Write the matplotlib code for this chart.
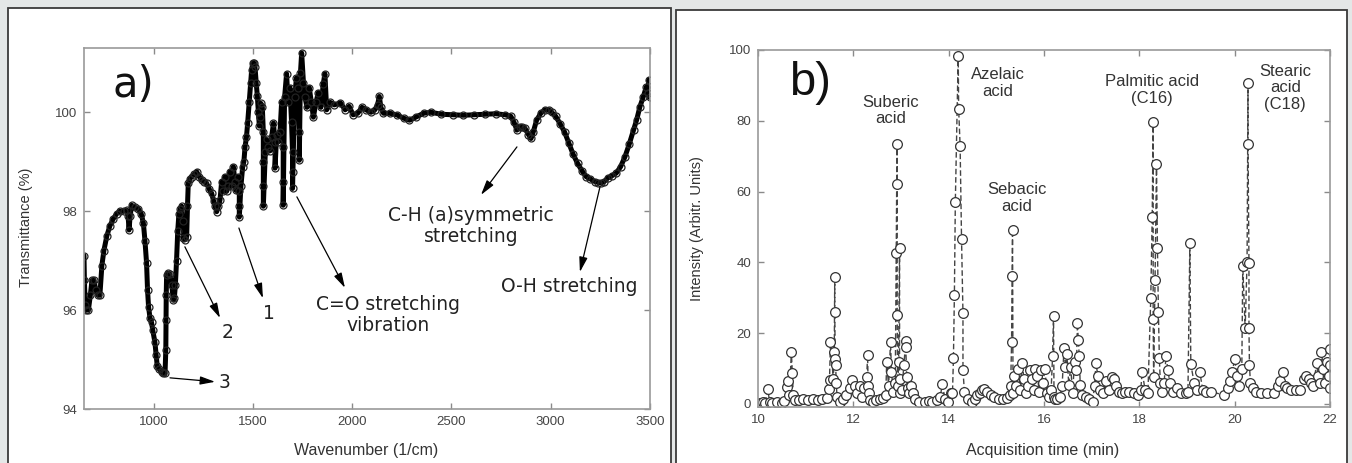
import matplotlib.pyplot as plt
from matplotlib.patches import Rectangle

# ---- panel a: IR spectrum ----
wavenumber = [
    650, 652, 656, 662, 672, 682, 690, 700, 710, 720,
    730, 740, 750, 765, 780, 798, 815, 831, 850, 865,
    872, 877, 882, 890, 905, 923, 938, 949, 957, 965,
    970, 975, 982, 990, 996, 1007, 1013, 1019, 1030, 1041,
    1050, 1058, 1062, 1063, 1064, 1066, 1072, 1083, 1092, 1100,
    1105, 1110, 1116, 1122, 1128, 1135, 1142, 1147, 1150, 1158,
    1167, 1171, 1175, 1183, 1192, 1205, 1217, 1230, 1243, 1255,
    1268, 1280, 1293, 1303, 1310, 1318, 1327, 1335, 1343, 1351,
    1360, 1368, 1377, 1385, 1393, 1402, 1410, 1415, 1424, 1432,
    1432, 1432, 1440, 1449, 1455, 1461, 1468, 1474, 1482, 1489,
    1494, 1499, 1505, 1511, 1517, 1523, 1528, 1533, 1537, 1541,
    1548, 1553, 1553, 1553, 1553, 1563, 1570, 1578, 1587, 1595,
    1604, 1612, 1612, 1620, 1628, 1637, 1645, 1653, 1653, 1653,
    1660, 1670, 1678, 1687, 1695, 1700, 1700, 1700, 1710, 1720,
    1728, 1734, 1734, 1740, 1746, 1755, 1763, 1773, 1784, 1795,
    1805, 1818, 1830, 1843, 1855, 1863, 1872, 1890, 1910, 1941,
    1965, 1985, 2005, 2028, 2050, 2070, 2095, 2115, 2128, 2137,
    2145, 2158, 2190, 2224, 2260, 2289, 2320, 2360, 2397, 2450,
    2506, 2560, 2614, 2670, 2723, 2770, 2799, 2815, 2830, 2843,
    2853, 2870, 2888, 2901, 2912, 2929, 2950, 2971, 2990, 3005,
    3025, 3047, 3070, 3092, 3113, 3135, 3157, 3178, 3200, 3222,
    3240, 3255, 3270, 3287, 3310, 3330, 3352, 3374, 3395, 3417,
    3433, 3449, 3465, 3482, 3490, 3495, 3498,
]
transmittance = [
    97.1, 96.6, 96.1, 96.0, 96.0, 96.3, 96.6, 96.6, 96.4, 96.3,
    96.3, 96.9, 97.2, 97.5, 97.7, 97.85, 97.95, 98.0, 98.0, 98.02,
    97.9, 97.62, 97.9, 98.12, 98.08, 98.05, 97.95, 97.76, 97.4, 96.95,
    96.4, 96.07, 95.85, 95.75, 95.6, 95.35, 95.1, 94.86, 94.8, 94.75,
    94.72, 94.72, 95.2, 95.8, 96.3, 96.7, 96.75, 96.72, 96.5, 96.2,
    96.25, 96.5, 97.0, 97.6, 97.95, 98.05, 98.1, 97.8, 97.45, 97.42,
    97.48, 98.1, 98.56, 98.65, 98.7, 98.75, 98.8, 98.7, 98.63, 98.6,
    98.56, 98.45, 98.36, 98.2, 98.1, 97.99, 98.1, 98.23, 98.6, 98.4,
    98.7, 98.4, 98.5, 98.8, 98.5, 98.9, 98.6, 98.42, 98.7, 98.4,
    98.1, 97.88, 98.5, 98.9, 99.0, 99.3, 99.5, 99.78, 100.2, 100.59,
    100.85, 100.99, 101.0, 100.92, 100.6, 100.32, 100.0, 99.72, 99.9, 100.18,
    100.1, 99.6, 99.0, 98.5, 98.1, 99.2, 99.45, 99.3, 99.22, 99.5,
    99.78, 99.4, 98.87, 99.55, 99.4, 99.6, 100.2, 99.3, 98.6, 98.12,
    100.3, 100.78, 100.2, 100.5, 99.8, 99.2, 98.8, 98.46, 100.3, 100.7,
    100.5, 99.6, 99.03, 100.8, 101.2, 100.6, 100.3, 100.1, 100.5, 100.2,
    99.9, 100.2, 100.4, 100.1, 100.58, 100.78, 100.05, 100.2, 100.15, 100.19,
    100.05, 100.12, 99.95, 99.98, 100.1, 100.05, 100.0, 100.05, 100.15, 100.32,
    100.1, 99.98, 99.98, 99.95, 99.88, 99.84, 99.9, 99.98, 100.0, 99.96,
    99.95, 99.94, 99.95, 99.96, 99.97, 99.95, 99.92, 99.8, 99.64, 99.7,
    99.7, 99.68, 99.55, 99.47, 99.6, 99.84, 99.98, 100.05, 100.05, 100.0,
    99.92, 99.77, 99.6, 99.37, 99.15, 98.97, 98.82, 98.7, 98.65, 98.6,
    98.58, 98.57, 98.6, 98.67, 98.72, 98.77, 98.9, 99.1, 99.35, 99.64,
    99.85, 100.11, 100.3, 100.52, 100.4, 100.66, 100.3,
]

# ---- panel b: chromatogram ----
acq_time = [
    10.0, 10.05, 10.1, 10.15, 10.2, 10.25, 10.3, 10.4, 10.5, 10.55,
    10.6, 10.63, 10.66, 10.7, 10.72, 10.74, 10.78, 10.85, 10.95, 11.05,
    11.15, 11.25, 11.35, 11.45, 11.49, 11.5, 11.52, 11.58, 11.6, 11.61,
    11.61, 11.62, 11.63, 11.64, 11.66, 11.72, 11.78, 11.85, 11.92, 11.98,
    12.03, 12.08, 12.13, 12.18, 12.23, 12.28, 12.3, 12.31, 12.33, 12.36,
    12.42, 12.48, 12.55, 12.62, 12.68, 12.70, 12.74, 12.78, 12.8, 12.84,
    12.88, 12.9, 12.91, 12.92, 12.92, 12.93, 12.95, 12.97, 12.97, 12.98,
    13.02, 13.06, 13.1, 13.1, 13.12, 13.14, 13.16, 13.2, 13.25, 13.3,
    13.38, 13.5, 13.58, 13.66, 13.75, 13.82, 13.87, 13.92, 13.98, 14.04,
    14.08, 14.1, 14.12, 14.14, 14.2, 14.21, 14.24, 14.27, 14.3, 14.3,
    14.33, 14.4, 14.48, 14.55, 14.6, 14.65, 14.7, 14.75, 14.8, 14.88,
    14.96, 15.05, 15.15, 15.22, 15.28, 15.3, 15.32, 15.33, 15.34, 15.35,
    15.38, 15.42, 15.46, 15.5, 15.54, 15.58, 15.62, 15.66, 15.7, 15.74,
    15.78, 15.82, 15.86, 15.9, 15.94, 15.98, 16.02, 16.06, 16.1, 16.15,
    16.18, 16.2, 16.21, 16.23, 16.28, 16.33, 16.38, 16.42, 16.45, 16.48,
    16.52, 16.56, 16.6, 16.64, 16.68, 16.7, 16.72, 16.74, 16.76, 16.8,
    16.88, 16.95, 17.02, 17.06, 17.09, 17.13, 17.18, 17.24, 17.3, 17.36,
    17.42, 17.47, 17.52, 17.57, 17.63, 17.7, 17.78, 17.88, 17.98, 18.03,
    18.06, 18.12, 18.18, 18.24, 18.27, 18.29, 18.29, 18.3, 18.33, 18.36,
    18.38, 18.4, 18.42, 18.44, 18.48, 18.52, 18.56, 18.6, 18.64, 18.7,
    18.78, 18.88, 18.98, 19.02, 19.06, 19.08, 19.15, 19.22, 19.27, 19.33,
    19.4, 19.5, 19.78, 19.85, 19.9, 19.95, 20.0, 20.05, 20.1, 20.15,
    20.17, 20.22, 20.26, 20.28, 20.28, 20.3, 20.3, 20.31, 20.33, 20.38,
    20.45, 20.55, 20.68, 20.82, 20.9, 20.95, 21.02, 21.06, 21.1, 21.18,
    21.28, 21.38, 21.45, 21.5, 21.55, 21.6, 21.65, 21.72, 21.75, 21.78,
    21.82, 21.86, 21.9, 21.94, 21.97, 22.0, 22.0, 22.0,
]
intensity = [
    0, 0.3, 0.5, 0.2, 4.1, 0.5, 0.3, 0.5, 0.3, 0.8,
    4.9, 6.5, 2.5, 14.8, 8.7, 2.5, 1.0, 1.2, 1.3, 1.2,
    1.3, 1.2, 1.5, 1.8, 4.2, 6.8, 17.4, 7.0, 14.8, 36.0,
    26.0, 12.6, 11.0, 5.8, 2.0, 0.7, 1.5, 2.5, 4.5, 6.8,
    5.0, 3.0, 5.0, 2.0, 4.5, 7.7, 13.8, 5.0, 3.0, 1.2,
    0.5, 1.0, 1.5, 1.8, 2.5, 12.0, 5.0, 17.6, 9.0, 3.5,
    6.0, 42.6, 62.1, 73.4, 25.1, 5.0, 12.0, 44.0, 3.0, 7.0,
    4.0, 11.0, 17.9, 16.0, 7.5, 4.5, 3.0, 5.0, 3.0, 1.5,
    0.5, 0.6, 0.8, 0.7, 1.0, 2.0, 5.6, 1.5, 0.5, 3.0,
    3.0, 12.9, 30.8, 57.2, 98.4, 83.2, 73.0, 46.6, 25.6, 9.6,
    3.5, 1.5, 0.5, 1.5, 2.5, 3.2, 4.0, 4.3, 3.5, 2.5,
    2.0, 1.5, 1.5, 1.7, 2.5, 5.0, 17.4, 36.2, 49.2, 3.0,
    8.0, 5.0, 10.0, 4.0, 11.7, 7.0, 3.0, 5.0, 9.5, 7.0,
    4.0, 10.0, 8.0, 3.5, 9.5, 6.0, 10.0, 3.0, 2.0, 4.0,
    13.6, 24.9, 2.0, 1.5, 1.5, 2.0, 5.0, 15.7, 10.5, 14.0,
    5.5, 10.5, 3.0, 12.0, 9.5, 22.8, 18.1, 13.5, 5.5, 2.5,
    2.0, 1.5, 0.7, 5.0, 11.5, 8.0, 4.0, 3.0, 6.5, 4.0,
    7.5, 7.0, 5.0, 3.5, 3.0, 3.5, 3.5, 3.0, 2.5, 4.0,
    9.1, 4.0, 3.0, 30.0, 52.9, 79.8, 24.0, 7.7, 35.0, 67.7,
    44.0, 26.1, 13.0, 6.0, 3.5, 6.0, 13.6, 9.5, 6.0, 3.5,
    4.5, 3.0, 3.0, 3.5, 45.6, 11.2, 6.0, 4.0, 8.9, 4.0,
    3.5, 3.5, 2.5, 4.5, 6.5, 9.0, 12.7, 8.0, 5.0, 10.0,
    39.0, 21.4, 40.0, 90.6, 73.4, 39.9, 21.4, 11.0, 6.0, 4.5,
    3.5, 3.0, 3.0, 3.0, 5.0, 6.5, 8.9, 5.0, 4.5, 4.0,
    4.0, 4.0, 7.0, 8.0, 7.0, 6.0, 5.0, 11.5, 8.0, 6.0,
    14.8, 10.0, 6.0, 12.0, 8.0, 15.5, 11.0, 4.5,
]

peak_labels = ["Suberic\nacid", "Azelaic\nacid", "Sebacic\nacid",
               "Palmitic acid\n(C16)", "Stearic\nacid\n(C18)"]
peak_label_pos = [(12.79, 82.8), (15.03, 90.7), (15.43, 58.2),
                  (18.27, 88.7), (21.06, 89.3)]

W, H = 1352, 463
fig = plt.figure(figsize=(W / 100, H / 100), dpi=100)
fig.patch.set_facecolor('#e4e7e7')

# white panel frames
for x0, x1, y0 in [(8, 671, 8), (676, 1347, 10)]:
    fig.add_artist(Rectangle((x0 / W, -0.05), (x1 - x0) / W, 1.05 - y0 / H,
                             transform=fig.transFigure, facecolor='white',
                             edgecolor='#3a3a3a', lw=1.3, zorder=0))


def style_axes(ax):
    for s in ax.spines.values():
        s.set_color('#9a9a9a')
        s.set_linewidth(1.2)
    ax.tick_params(direction='in', top=True, right=True, length=4,
                   color='#8a8a8a', width=1, labelsize=9.5, labelcolor='#444444',
                   pad=5)
    for lab in ax.get_xticklabels() + ax.get_yticklabels():
        lab.set_family('Liberation Sans')


# ---------------- panel a ----------------
ax_a = fig.add_axes([84 / W, (H - 409) / H, 566 / W, 361 / H])
ax_a.plot(wavenumber, transmittance, '-', color='black', lw=3.6,
          solid_joinstyle='round', solid_capstyle='round')
ax_a.plot(wavenumber, transmittance, 'o', mfc='none', mec='#222222',
          ms=5, mew=0.9)
ax_a.set_xlim(650, 3500)
ax_a.set_ylim(94, 101.3)
ax_a.set_xticks([1000, 1500, 2000, 2500, 3000, 3500])
ax_a.set_yticks([94, 96, 98, 100])
style_axes(ax_a)
ax_a.set_xlabel("Wavenumber (1/cm)", fontfamily='Liberation Sans',
                fontsize=11.5, color='#333333')
ax_a.set_ylabel("Transmittance (%)", fontfamily='Liberation Sans',
                fontsize=10.5, color='#333333')
ax_a.xaxis.set_label_coords(0.498, -0.095)
ax_a.yaxis.set_label_coords(-0.09, 0.504)

ax_a.text(900, 100.55, "a)", fontsize=30, family='DejaVu Sans',
          color='#111111', ha='center', va='center')

arrow = dict(arrowstyle='-|>,head_length=0.9,head_width=0.25', color='black',
             lw=0.9, shrinkA=0, shrinkB=0)
ann_font = dict(family='DejaVu Sans', fontsize=13.5, color='#222222')
ax_a.annotate("", xy=(1310, 94.55), xytext=(1083, 94.63), arrowprops=arrow)
ax_a.text(1355, 94.53, "3", ha='center', va='center', **ann_font)
ax_a.annotate("", xy=(1335, 95.84), xytext=(1158, 97.28), arrowprops=arrow)
ax_a.text(1375, 95.54, "2", ha='center', va='center', **ann_font)
ax_a.annotate("", xy=(1551, 96.24), xytext=(1430, 97.66), arrowprops=arrow)
ax_a.text(1582, 95.94, "1", ha='center', va='center', **ann_font)
ax_a.annotate("", xy=(1964, 96.45), xytext=(1722, 98.29), arrowprops=arrow)
ax_a.text(2181, 95.9, "C=O stretching\nvibration", ha='center', va='center',
          linespacing=1.15, **ann_font)
ax_a.annotate("", xy=(2649, 98.33), xytext=(2830, 99.3), arrowprops=arrow)
ax_a.text(2599, 97.7, "C-H (a)symmetric\nstretching", ha='center',
          va='center', linespacing=1.15, **ann_font)
ax_a.annotate("", xy=(3147, 96.77), xytext=(3248, 98.49), arrowprops=arrow)
ax_a.text(3092, 96.47, "O-H stretching", ha='center', va='center', **ann_font)

# ---------------- panel b ----------------
ax_b = fig.add_axes([758 / W, (H - 407) / H, 572 / W, 357 / H])
ax_b.plot(acq_time, intensity, linestyle=(0, (4, 2)), color='#444444',
          lw=1.0, marker='o', ms=7, mfc='white', mec='#333333', mew=0.9)
ax_b.set_xlim(10, 22)
ax_b.set_ylim(-0.85, 100)
ax_b.set_xticks([10, 12, 14, 16, 18, 20, 22])
ax_b.set_yticks([0, 20, 40, 60, 80, 100])
style_axes(ax_b)
ax_b.set_xlabel("Acquisition time (min)", fontfamily='Liberation Sans',
                fontsize=11.5, color='#333333')
ax_b.set_ylabel("Intensity (Arbitr. Units)", fontfamily='Liberation Sans',
                fontsize=10.5, color='#333333')
ax_b.xaxis.set_label_coords(0.498, -0.102)
ax_b.yaxis.set_label_coords(-0.094, 0.5)

ax_b.text(11.09, 90.7, "b)", fontsize=34, family='Liberation Sans',
          color='#111111', ha='center', va='center')
for lab, (tx, ty) in zip(peak_labels, peak_label_pos):
    ax_b.text(tx, ty, lab, ha='center', va='center', family='Liberation Sans',
              fontsize=12, color='#333333', linespacing=1.1)

fig.savefig("out.png", dpi=100, facecolor=fig.get_facecolor())
